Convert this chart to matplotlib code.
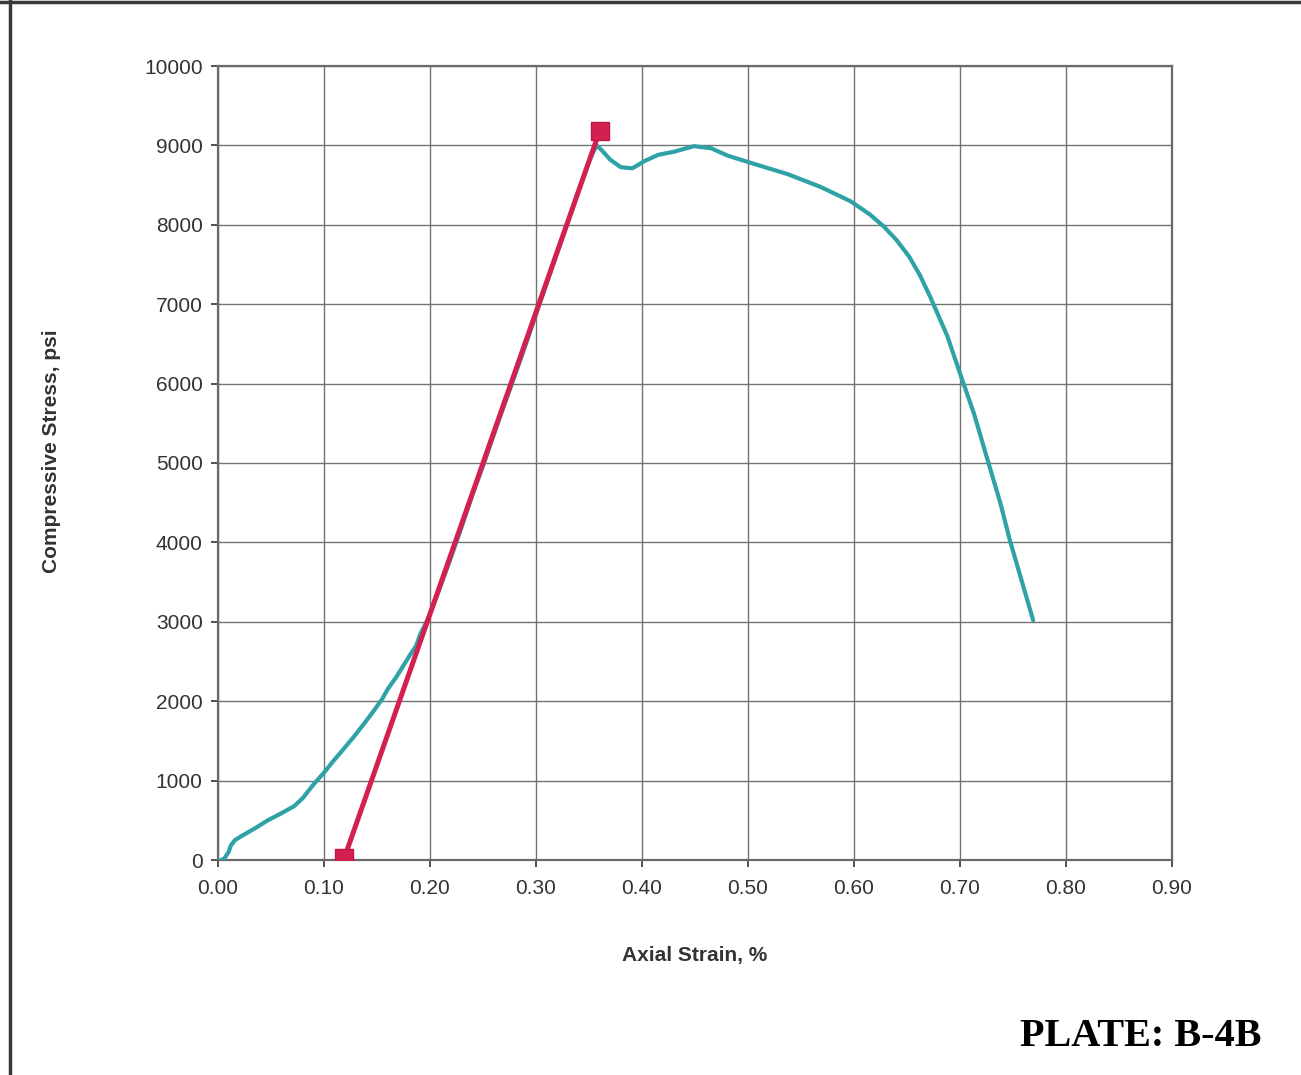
import matplotlib

matplotlib.use("Agg")
import matplotlib.pyplot as plt
from matplotlib.lines import Line2D

# measured stress-strain curve (strain %, stress psi)
strain = [0.003, 0.006, 0.010, 0.012, 0.016, 0.022, 0.035, 0.047, 0.060, 0.072,
          0.080, 0.090, 0.100, 0.109, 0.118, 0.128, 0.138, 0.147, 0.155, 0.160,
          0.168, 0.175, 0.182, 0.187, 0.191, 0.196, 0.200, 0.210, 0.220, 0.230,
          0.240, 0.251, 0.260, 0.270, 0.280, 0.290, 0.302, 0.310, 0.320, 0.330,
          0.340, 0.350, 0.357, 0.362, 0.370, 0.380, 0.391, 0.402, 0.415, 0.430,
          0.449, 0.465, 0.481, 0.505, 0.537, 0.568, 0.597, 0.615, 0.628, 0.640,
          0.652, 0.662, 0.672, 0.688, 0.702, 0.713, 0.726, 0.738, 0.747, 0.769]
stress = [0, 20, 100, 180, 250, 300, 400, 500, 590, 680,
          780, 950, 1100, 1250, 1390, 1550, 1720, 1880, 2030, 2150,
          2300, 2450, 2600, 2700, 2850, 2980, 3100, 3450, 3820, 4200,
          4600, 5000, 5350, 5730, 6100, 6480, 6950, 7260, 7650, 8030,
          8420, 8800, 9000, 8940, 8820, 8725, 8712, 8800, 8880, 8920,
          8990, 8965, 8870, 8770, 8640, 8480, 8295, 8130, 7980, 7810,
          7600, 7370, 7090, 6600, 6050, 5630, 5040, 4500, 4030, 3020]

# modulus line
mod_strain = [0.119, 0.360]
mod_stress = [20, 9180]

x_ticks = [0.0, 0.1, 0.2, 0.3, 0.4, 0.5, 0.6, 0.7, 0.8, 0.9]
y_ticks = [0, 1000, 2000, 3000, 4000, 5000, 6000, 7000, 8000, 9000, 10000]

plt.rcParams["font.family"] = ["Liberation Sans", "DejaVu Sans"]

fig = plt.figure(figsize=(13.01, 10.75), dpi=100)
ax = fig.add_axes([218 / 1301, 1 - 860 / 1075, 954 / 1301, 794 / 1075])

ax.plot(strain, stress, color="#2ea2a6", lw=3.0, zorder=3,
        solid_capstyle="round", solid_joinstyle="round")
ax.plot(mod_strain, mod_stress, color="#d42050", lw=3.6, marker="s",
        markersize=13, markerfacecolor="#d42050", markeredgecolor="#c01840", zorder=4)

ax.set_xlim(0, 0.9)
ax.set_ylim(0, 10000)
ax.set_xticks(x_ticks)
ax.set_xticklabels([f"{t:.2f}" for t in x_ticks])
ax.set_yticks(y_ticks)
ax.set_yticklabels([str(t) for t in y_ticks])
ax.tick_params(labelsize=15, colors="#333333", length=5, width=1.2)
ax.tick_params(axis="x", pad=9)
ax.tick_params(axis="y", pad=6)
ax.grid(True, color="#727272", lw=1.0)
ax.set_axisbelow(True)
for s in ax.spines.values():
    s.set_color("#6a6a6a")
    s.set_linewidth(1.6)

fig.text(695 / 1301, 1 - 955 / 1075, "Axial Strain, %", ha="center", va="center",
         fontsize=15, fontweight="bold", color="#333333")
fig.text(52 / 1301, 1 - 451 / 1075, "Compressive Stress, psi", ha="center", va="center",
         rotation=90, fontsize=15, fontweight="bold", color="#333333")
fig.text(1141 / 1301, 1 - 1037 / 1075, "PLATE: B-4B", ha="center", va="center",
         fontsize=29, fontweight="bold", family="Liberation Serif", color="black")

# page border
fig.add_artist(Line2D([10 / 1301, 10 / 1301], [0, 1], transform=fig.transFigure,
                      color="#3a3a3a", lw=2.5))
fig.add_artist(Line2D([0, 1], [1 - 1.5 / 1075, 1 - 1.5 / 1075], transform=fig.transFigure,
                      color="#3a3a3a", lw=2.5))

fig.savefig("out.png", dpi=100)
